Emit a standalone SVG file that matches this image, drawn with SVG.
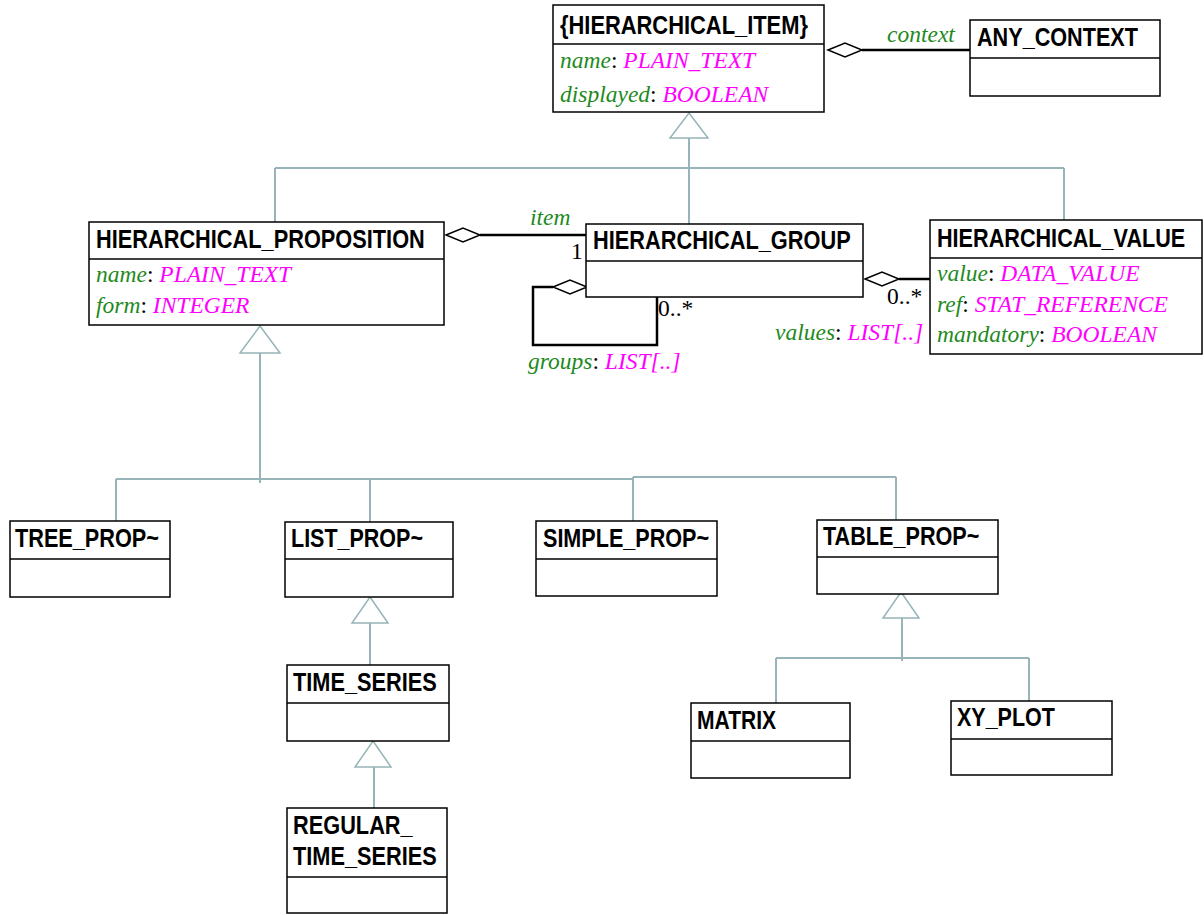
<svg xmlns="http://www.w3.org/2000/svg" width="1204" height="915" viewBox="0 0 1204 915">
  <style>
    .box { fill: #ffffff; stroke: #000000; stroke-width: 1.5; }
    .div { stroke: #000000; stroke-width: 1.5; }
    .title { font-family: "Liberation Sans", Arial, sans-serif; font-weight: bold; font-size: 26px; fill: #000000; }
    .attr { font-family: "Liberation Serif", "Times New Roman", serif; font-size: 23.5px; fill: #000000; }
    .nm { font-style: italic; fill: #1e8a1e; }
    .ty { font-style: italic; fill: #ff00ff; }
    .mult { font-family: "Liberation Serif", "Times New Roman", serif; font-size: 23.5px; fill: #000000; }
    .gen { fill: none; stroke: #97b4b8; stroke-width: 2; }
    .tri { fill: #ffffff; stroke: #97b4b8; stroke-width: 1.5; }
    .agg { fill: none; stroke: #000000; stroke-width: 2.5; }
    .dia { fill: #ffffff; stroke: #000000; stroke-width: 1.5; }
  </style>

  <!-- connectors: generalisations and aggregations -->
  <g id="connectors">
    <!-- HIERARCHICAL_ITEM specialisations -->
    <path class="gen" d="M689,138 V168 M275,168 H1064 M275,168 V222 M689,168 V224 M1064,168 V220"/>
    <polygon class="tri" points="689,113 708,138 670,138"/>

    <!-- HIERARCHICAL_PROPOSITION specialisations -->
    <path class="gen" d="M260,353 V483 M116,479 H633 M633,477 H896 M116,479 V521 M370,479 V522 M633,477 V521 M896,477 V520"/>
    <polygon class="tri" points="260,326 280,353 240,353"/>

    <!-- LIST_PROP~ to TIME_SERIES -->
    <path class="gen" d="M370,623 V665"/>
    <polygon class="tri" points="370,597 388,623 352,623"/>

    <!-- TIME_SERIES to REGULAR_TIME_SERIES -->
    <path class="gen" d="M374,767 V808"/>
    <polygon class="tri" points="373,741 391,767 355,767"/>

    <!-- TABLE_PROP~ specialisations -->
    <path class="gen" d="M902,618 V661 M776,658 H1029 M776,658 V703 M1029,658 V701"/>
    <polygon class="tri" points="901,592 919,618 883,618"/>

    <!-- context -->
    <path class="agg" d="M862,50 H970"/>
    <polygon class="dia" points="828,50 845,43 862,50 845,57"/>
    <text x="887" y="42" class="attr nm">context</text>

    <!-- item -->
    <path class="agg" d="M480,235 H586"/>
    <polygon class="dia" points="446,235 463,228 480,235 463,242"/>
    <text x="530" y="225" class="attr nm">item</text>
    <text x="571" y="259" class="mult">1</text>

    <!-- groups (self) -->
    <path class="agg" d="M553,287 H533 V345 H657 V297"/>
    <polygon class="dia" points="553,287 570,280 587,287 570,294"/>
    <text x="658" y="316" class="mult">0..*</text>
    <text x="528" y="369" class="attr"><tspan class="nm">groups</tspan>: <tspan class="ty">LIST[..]</tspan></text>

    <!-- values -->
    <path class="agg" d="M899,279 H930"/>
    <polygon class="dia" points="865,279 882,272 899,279 882,286"/>
    <text x="887" y="304" class="mult">0..*</text>
    <text x="775" y="340" class="attr"><tspan class="nm">values</tspan>: <tspan class="ty">LIST[..]</tspan></text>
  </g>

  <!-- class boxes; titles use a narrowed bold sans -->
  <g id="hierarchical_item">
    <rect class="box" x="553" y="5" width="271" height="107"/>
    <line class="div" x1="553" y1="44" x2="824" y2="44"/>
    <text class="title" transform="translate(560,34) scale(0.842,1)">{HIERARCHICAL_ITEM}</text>
    <text x="560" y="68" class="attr"><tspan class="nm">name</tspan>: <tspan class="ty">PLAIN_TEXT</tspan></text>
    <text x="560" y="102" class="attr"><tspan class="nm">displayed</tspan>: <tspan class="ty">BOOLEAN</tspan></text>
  </g>

  <g id="any_context">
    <rect class="box" x="970" y="20" width="190" height="76"/>
    <line class="div" x1="970" y1="58" x2="1160" y2="58"/>
    <text class="title" transform="translate(977,46) scale(0.832,1)">ANY_CONTEXT</text>
  </g>

  <g id="hierarchical_proposition">
    <rect class="box" x="89" y="222" width="355" height="103"/>
    <line class="div" x1="89" y1="259" x2="444" y2="259"/>
    <text class="title" transform="translate(96,248) scale(0.837,1)">HIERARCHICAL_PROPOSITION</text>
    <text x="96" y="282" class="attr"><tspan class="nm">name</tspan>: <tspan class="ty">PLAIN_TEXT</tspan></text>
    <text x="96" y="313" class="attr"><tspan class="nm">form</tspan>: <tspan class="ty">INTEGER</tspan></text>
  </g>

  <g id="hierarchical_group">
    <rect class="box" x="586" y="224" width="277" height="73"/>
    <line class="div" x1="586" y1="261" x2="863" y2="261"/>
    <text class="title" transform="translate(593,249) scale(0.838,1)">HIERARCHICAL_GROUP</text>
  </g>

  <g id="hierarchical_value">
    <rect class="box" x="930" y="220" width="272" height="134"/>
    <line class="div" x1="930" y1="258" x2="1202" y2="258"/>
    <text class="title" transform="translate(937,247) scale(0.832,1)">HIERARCHICAL_VALUE</text>
    <text x="937" y="281" class="attr"><tspan class="nm">value</tspan>: <tspan class="ty">DATA_VALUE</tspan></text>
    <text x="937" y="312" class="attr"><tspan class="nm">ref</tspan>: <tspan class="ty">STAT_REFERENCE</tspan></text>
    <text x="937" y="342" class="attr"><tspan class="nm">mandatory</tspan>: <tspan class="ty">BOOLEAN</tspan></text>
  </g>

  <g id="tree_prop">
    <rect class="box" x="10" y="521" width="160" height="76"/>
    <line class="div" x1="10" y1="559" x2="170" y2="559"/>
    <text class="title" transform="translate(15,547) scale(0.834,1)">TREE_PROP~</text>
  </g>

  <g id="list_prop">
    <rect class="box" x="285" y="522" width="168" height="75"/>
    <line class="div" x1="285" y1="559" x2="453" y2="559"/>
    <text class="title" transform="translate(291,547) scale(0.827,1)">LIST_PROP~</text>
  </g>

  <g id="simple_prop">
    <rect class="box" x="536" y="521" width="181" height="75"/>
    <line class="div" x1="536" y1="559" x2="717" y2="559"/>
    <text class="title" transform="translate(543,547) scale(0.83,1)">SIMPLE_PROP~</text>
  </g>

  <g id="table_prop">
    <rect class="box" x="817" y="520" width="181" height="74"/>
    <line class="div" x1="817" y1="557" x2="998" y2="557"/>
    <text class="title" transform="translate(823,545) scale(0.832,1)">TABLE_PROP~</text>
  </g>

  <g id="time_series">
    <rect class="box" x="287" y="665" width="162" height="76"/>
    <line class="div" x1="287" y1="703" x2="449" y2="703"/>
    <text class="title" transform="translate(293,691) scale(0.837,1)">TIME_SERIES</text>
  </g>

  <g id="regular_time_series">
    <rect class="box" x="287" y="808" width="160" height="105"/>
    <line class="div" x1="287" y1="877" x2="447" y2="877"/>
    <text class="title" transform="translate(293,834) scale(0.837,1)">REGULAR_</text>
    <text class="title" transform="translate(293,865) scale(0.837,1)">TIME_SERIES</text>
  </g>

  <g id="matrix">
    <rect class="box" x="691" y="703" width="159" height="75"/>
    <line class="div" x1="691" y1="741" x2="850" y2="741"/>
    <text class="title" transform="translate(697,729) scale(0.81,1)">MATRIX</text>
  </g>

  <g id="xy_plot">
    <rect class="box" x="951" y="701" width="161" height="74"/>
    <line class="div" x1="951" y1="739" x2="1112" y2="739"/>
    <text class="title" transform="translate(957,726) scale(0.827,1)">XY_PLOT</text>
  </g>
</svg>
